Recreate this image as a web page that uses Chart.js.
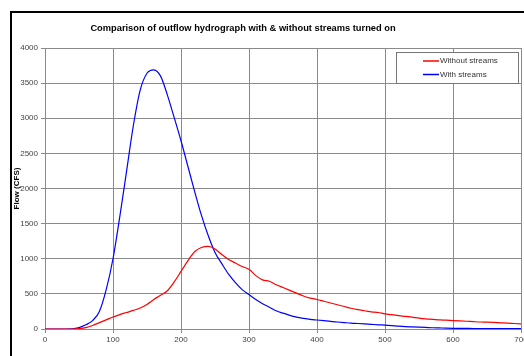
<!DOCTYPE html>
<html>
<head>
<meta charset="utf-8">
<script src="https://cdn.jsdelivr.net/npm/chart.js@4"></script>
<style>
  html, body { margin: 0; padding: 0; background: #fff; overflow: hidden; }
  #frame { position: absolute; left: 10px; top: 11px; width: 700px; height: 500px; border: 2px solid #000; }
  #wrap { position: absolute; left: 0; top: 0; width: 545px; height: 364px; }
</style>
</head>
<body>
<div id="frame"></div>
<div id="wrap"><canvas id="chart"></canvas></div>
<script>
// time in minutes, step 10
const times = [];
for (let t = 0; t <= 700; t += 10) times.push(t);

const withoutStreams = [
  0, 0, 0, 0, 0, 5, 20, 50, 90, 130,
  170, 205, 235, 265, 300, 350, 420, 480, 545, 670,
  820, 970, 1100, 1160, 1175, 1140, 1060, 990, 940, 890,
  850, 760, 700, 680, 630, 590, 550, 510, 470, 440,
  420, 395, 370, 345, 320, 295, 275, 260, 245, 235,
  215, 205, 190, 180, 168, 155, 145, 138, 130, 125,
  120, 115, 110, 105, 100, 97, 93, 88, 84, 78,
  72
];

const withStreams = [
  0, 0, 0, 0, 2, 20, 60, 120, 250, 560,
  1000, 1600, 2250, 2900, 3400, 3640, 3690, 3600, 3330, 3010,
  2680, 2320, 1960, 1620, 1330, 1090, 930, 780, 660, 560,
  490, 420, 360, 310, 260, 225, 195, 170, 150, 138,
  128, 118, 108, 100, 92, 84, 78, 72, 66, 60,
  55, 48, 40, 34, 30, 26, 22, 18, 15, 12,
  10, 9, 8, 7, 7, 6, 6, 5, 5, 5,
  5
];

const chartTitle = "Comparison of outflow hydrograph with & without streams turned on";
const FONT = "'Liberation Sans', Arial, sans-serif";

const toPoints = vals => vals.map((v, i) => ({ x: times[i], y: v }));

// title sits left of centre in the original, so draw it by hand
const sideTitle = {
  id: "sideTitle",
  afterDraw(chart) {
    const c = chart.ctx;
    c.save();
    c.font = "bold 9.3px " + FONT;
    c.fillStyle = "#000";
    c.textAlign = "center";
    c.textBaseline = "middle";
    c.fillText(chartTitle, 243, 28);
    c.restore();
  }
};

// legend drawn in a box inside the plot, top right
const boxLegend = {
  id: "boxLegend",
  afterDraw(chart) {
    const c = chart.ctx;
    const x = 396, y = 52, w = 122, h = 31;
    c.save();
    c.fillStyle = "#fff";
    c.fillRect(x, y, w, h);
    c.strokeStyle = "#777";
    c.lineWidth = 1;
    c.strokeRect(x + 0.5, y + 0.5, w, h);
    c.font = "8px " + FONT;
    c.textBaseline = "middle";
    chart.data.datasets.forEach((ds, i) => {
      const ly = y + 9 + i * 13.5;
      c.strokeStyle = ds.borderColor;
      c.lineWidth = 1.5;
      c.beginPath();
      c.moveTo(423, ly);
      c.lineTo(439, ly);
      c.stroke();
      c.fillStyle = "#333";
      c.fillText(ds.label, 440, ly);
    });
    c.restore();
  }
};

const ctx = document.getElementById("chart");

const config = {
  type: "line",
  data: {
    datasets: [
      {
        label: "Without streams",
        borderColor: "rgb(255, 0, 0)",
        backgroundColor: "rgb(255, 0, 0)",
        borderWidth: 1.2,
        pointRadius: 0,
        cubicInterpolationMode: "monotone",
        data: toPoints(withoutStreams),
      },
      {
        label: "With streams",
        borderColor: "rgb(0, 0, 255)",
        backgroundColor: "rgb(0, 0, 255)",
        borderWidth: 1.2,
        pointRadius: 0,
        cubicInterpolationMode: "monotone",
        data: toPoints(withStreams),
      },
    ],
  },
  options: {
    responsive: true,
    maintainAspectRatio: false,
    animation: false,
    layout: { padding: { left: 12, top: 48, right: 24, bottom: 0 } },
    plugins: {
      legend: { display: false },
      tooltip: { enabled: false },
      title: { display: false },
    },
    scales: {
      x: {
        type: "linear",
        min: 0,
        max: 700,
        ticks: {
          stepSize: 100,
          color: "#444",
          font: { family: FONT, size: 8 },
          padding: 2,
          maxRotation: 0,
          callback: v => String(v),
        },
        grid: { color: "#8a8a8a", lineWidth: 1, tickLength: 4 },
        border: { color: "#8a8a8a" },
        title: {
          display: true,
          text: "Time (Mins)",
          color: "#000",
          font: { family: FONT, size: 8, weight: "bold" },
          padding: { top: 2, bottom: 0 },
        },
        afterFit: s => { s.height = 35; },
      },
      y: {
        min: 0,
        max: 4000,
        ticks: {
          stepSize: 500,
          color: "#444",
          font: { family: FONT, size: 8 },
          padding: 3,
          callback: v => String(v),
        },
        grid: { color: "#8a8a8a", lineWidth: 1, tickLength: 4 },
        border: { color: "#8a8a8a" },
        title: {
          display: true,
          text: "Flow (CFS)",
          color: "#000",
          font: { family: FONT, size: 8, weight: "bold" },
          padding: { top: 0, bottom: 2 },
        },
        afterFit: s => { s.width = 33; },
      },
    },
  },
  plugins: [sideTitle, boxLegend],
};

const myChart = new Chart(ctx, config);
</script>
</body>
</html>
